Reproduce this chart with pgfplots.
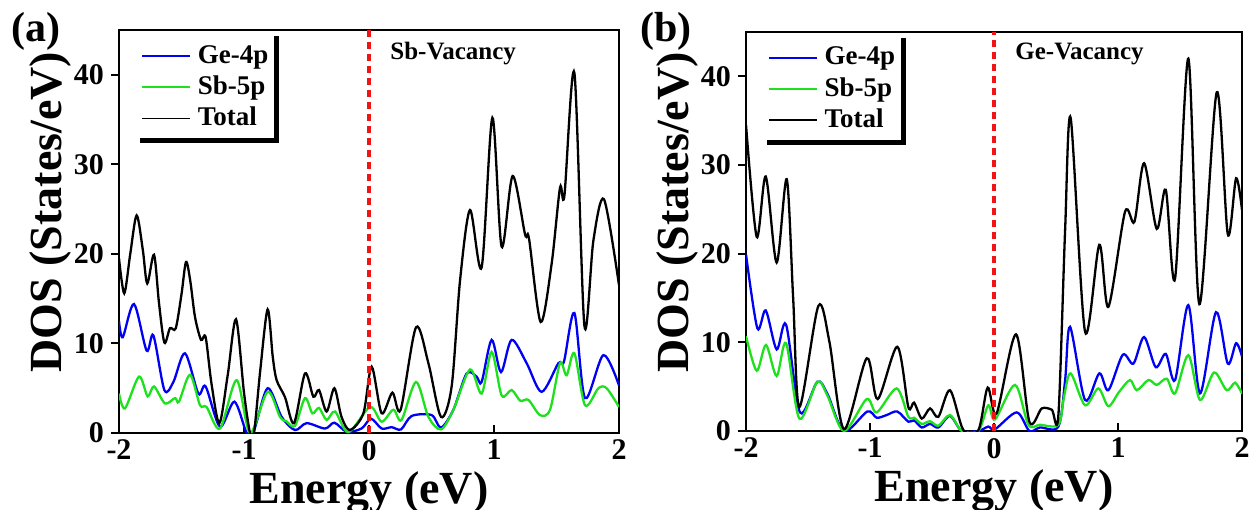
\documentclass[border=0pt]{standalone}
\usepackage{fontspec}
\setmainfont{Liberation Serif}
\usepackage{pgfplots}
\pgfplotsset{compat=1.18}

\definecolor{dosblue}{RGB}{0,0,245}
\definecolor{dosgreen}{RGB}{30,225,30}
\definecolor{fermired}{RGB}{240,20,20}

\pgfplotsset{
  dosaxis/.style={
    scale only axis,
    xmin=-2, xmax=2, ymin=0, ymax=45,
    xtick={-2,-1,0,1,2}, xticklabels={-2,-1,0,1,2},
    ytick={0,10,20,30,40}, yticklabels={0,10,20,30,40},
    tick pos=left, xtick align=inside, ytick align=outside,
    major tick length=4bp,
    tick style={line width=1bp, black},
    axis line style={line width=1.2bp},
    ticklabel style={font=\fontsize{15bp}{15bp}\selectfont\bfseries},
    label style={font=\fontsize{23bp}{23bp}\selectfont\bfseries},
    xlabel={Energy (eV)},
    ylabel={DOS (States/eV)},
    xlabel style={at={(axis description cs:0.5,-0.176)}, anchor=base},
    ylabel style={at={(axis description cs:-0.138,0.548)}, anchor=center},
    legend cell align=left,
    legend image code/.code={\draw[##1, line width=0.9bp] (0bp,0bp) -- (24bp,0bp);},
    legend style={at={(axis description cs:0.036,0.985)}, anchor=north west,
      draw=none, fill=white, inner xsep=2bp, inner ysep=2.5bp, row sep=1bp,
      font=\fontsize{13.5bp}{13.5bp}\selectfont\bfseries,
      nodes={inner sep=0.8bp, text height=10bp, text depth=3bp},
      /tikz/every odd column/.append style={column sep=2.5bp}},
    every axis plot/.append style={smooth, tension=0.5, line width=1.15bp, no markers},
  }
}

\begin{document}
\begin{tikzpicture}[x=0.5bp, y=-0.5bp]
\useasboundingbox (0,0) rectangle (1251,510);

% (a) Sb vacancy
\begin{axis}[dosaxis, at={(59.5bp,-216.5bp)}, anchor=south west, width=250bp, height=201.5bp,
  legend style={name=legA}]
\addplot[dosblue] coordinates {
(-2.0,12.5) (-1.97,10.7) (-1.88,14.4) (-1.779,9.2) (-1.725,10.9) (-1.637,4.8)
(-1.565,5.7) (-1.472,8.9) (-1.365,4.4) (-1.307,5.2) (-1.192,0.7) (-1.077,3.5)
(-0.978,0.0) (-0.92,0.3) (-0.811,5.0) (-0.699,1.8) (-0.592,0.33) (-0.499,1.1)
(-0.352,0.5) (-0.277,1.15) (-0.179,0.15) (-0.06,0.5) (0.016,1.6) (0.101,0.5)
(0.181,0.65) (0.256,0.4) (0.341,1.9) (0.501,2.0) (0.576,0.6) (0.675,2.6)
(0.781,6.65) (0.86,6.3) (0.901,5.7) (0.981,10.4) (1.056,6.8) (1.141,10.4)
(1.261,7.8) (1.381,4.6) (1.515,7.8) (1.56,8.0) (1.643,13.4) (1.728,3.9)
(1.875,8.7) (2.0,5.3)};
\addlegendentry{Ge-4p}
\addplot[dosgreen] coordinates {
(-2.0,4.4) (-1.952,2.75) (-1.84,6.3) (-1.771,4.1) (-1.72,5.2) (-1.632,3.3)
(-1.552,3.9) (-1.52,3.5) (-1.432,6.5) (-1.352,3.1) (-1.299,2.9) (-1.192,0.5)
(-1.059,5.9) (-0.952,0.0) (-0.811,4.6) (-0.712,1.8) (-0.66,1.3) (-0.592,0.8)
(-0.512,3.9) (-0.453,2.2) (-0.4,2.8) (-0.339,1.45) (-0.272,2.4) (-0.165,0.1)
(0.008,2.9) (0.101,1.26) (0.195,2.6) (0.26,1.45) (0.376,5.7) (0.475,1.8)
(0.576,0.4) (0.675,2.6) (0.808,7.1) (0.901,4.4) (0.981,9.05) (1.061,4.2)
(1.141,4.8) (1.21,3.6) (1.275,3.7) (1.368,2.0) (1.448,2.6) (1.528,7.8)
(1.581,6.45) (1.643,8.9) (1.728,3.1) (1.835,5.0) (1.901,5.0) (2.0,2.9)};
\addlegendentry{Sb-5p}
\addplot[black] coordinates {
(-2.00,19.5) (-1.958,15.6) (-1.91,20) (-1.859,24.3) (-1.81,20.5) (-1.774,16.7)
(-1.72,19.9) (-1.68,14.5) (-1.637,10.1) (-1.592,11.7) (-1.546,11.7) (-1.50,15.5)
(-1.464,19.1) (-1.43,17) (-1.392,12.95) (-1.344,10.4) (-1.307,10.7) (-1.26,5.5)
(-1.197,1.1) (-1.13,6.5) (-1.064,12.7) (-1.00,4.5) (-0.952,0.0) (-0.92,0.0)
(-0.87,7) (-0.811,13.8) (-0.77,8.5) (-0.739,5.9) (-0.672,4.0) (-0.6,1.1)
(-0.512,6.65) (-0.445,4.05) (-0.4,4.8) (-0.339,2.4) (-0.277,5.0) (-0.22,1.8)
(-0.152,0.33) (-0.045,2.2) (0.021,7.4) (0.101,2.2) (0.187,4.5) (0.253,2.6)
(0.376,11.8) (0.475,7.8) (0.576,1.8) (0.661,5.2) (0.728,17.0) (0.808,24.9)
(0.901,18.5) (0.987,35.2) (1.061,20.8) (1.149,28.7) (1.248,22.2) (1.28,21.7)
(1.373,12.4) (1.461,18.9) (1.528,27.4) (1.563,26.5) (1.643,40.2) (1.723,12.0)
(1.795,21.5) (1.88,26.1) (2.0,16.5)};
\addlegendentry{Total}
\draw[fermired, line width=2bp, dash pattern=on 3.5bp off 2.5bp] (axis cs:0,0) -- (axis cs:0,45);
\end{axis}

% (b) Ge vacancy
\begin{axis}[dosaxis, at={(373bp,-215.5bp)}, anchor=south west, width=248bp, height=199.5bp,
  legend style={name=legB}]
\addplot[dosblue] coordinates {
(-2.0,19.9) (-1.909,11.6) (-1.841,13.6) (-1.753,9.2) (-1.677,12.0) (-1.565,2.1)
(-1.425,5.55) (-1.344,4.2) (-1.21,0.0) (-1.022,2.2) (-0.946,1.5) (-0.866,1.8)
(-0.78,2.2) (-0.691,1.05) (-0.645,1.2) (-0.583,0.4) (-0.516,0.8) (-0.449,0.4)
(-0.355,1.7) (-0.26,0.0) (-0.126,0.0) (-0.046,0.5) (0.008,0.2) (0.183,2.1)
(0.285,0.0) (0.37,0.4) (0.519,0.5) (0.573,5.7) (0.613,11.75) (0.734,3.5)
(0.849,6.5) (0.922,4.6) (1.038,8.6) (1.124,7.6) (1.21,10.6) (1.304,7.2)
(1.385,8.7) (1.46,5.75) (1.567,14.2) (1.661,4.25) (1.79,13.4) (1.885,7.6)
(1.952,9.9) (2.0,8.4)};
\addlegendentry{Ge-4p}
\addplot[dosgreen] coordinates {
(-2.0,10.7) (-1.914,6.8) (-1.839,9.7) (-1.753,6.2) (-1.677,9.9) (-1.57,1.4)
(-1.425,5.55) (-1.344,4.0) (-1.21,0.0) (-1.027,3.6) (-0.946,2.1) (-0.785,4.8)
(-0.691,1.6) (-0.645,1.5) (-0.583,0.8) (-0.516,1.1) (-0.449,0.6) (-0.355,1.8)
(-0.26,0.0) (-0.126,0.0) (-0.046,2.9) (0.008,1.3) (0.169,5.2) (0.277,0.7)
(0.37,0.7) (0.519,0.7) (0.565,3.9) (0.618,6.5) (0.734,2.9) (0.841,4.8)
(0.922,2.8) (1.008,4.4) (1.097,5.75) (1.151,4.6) (1.245,5.75) (1.312,5.2)
(1.393,5.9) (1.46,4.25) (1.567,8.55) (1.661,3.5) (1.774,6.6) (1.876,4.6)
(1.944,5.45) (2.0,4.2)};
\addlegendentry{Sb-5p}
\addplot[black] coordinates {
(-2.0,34.5) (-1.914,21.9) (-1.841,28.7) (-1.753,19.0) (-1.672,28.4) (-1.62,15)
(-1.57,2.7) (-1.417,14.1) (-1.328,10.1) (-1.21,0.2) (-1.027,8.2) (-0.938,3.6)
(-0.78,9.5) (-0.691,2.7) (-0.645,3.2) (-0.583,1.4) (-0.516,2.55) (-0.449,1.6)
(-0.355,4.6) (-0.247,0.1) (-0.126,0.1) (-0.051,4.9) (0.021,2.0) (0.177,10.9)
(0.285,1.05) (0.385,2.55) (0.466,2.4) (0.519,1.8) (0.573,22.6) (0.618,35.3)
(0.734,11.2) (0.849,21.0) (0.922,14.0) (1.056,24.7) (1.132,23.6) (1.21,30.2)
(1.312,22.8) (1.385,27.2) (1.46,17.2) (1.567,42.0) (1.656,14.3) (1.796,38.2)
(1.885,22.2) (1.952,28.5) (2.0,24.9)};
\addlegendentry{Total}
\draw[fermired, line width=2bp, dash pattern=on 3.5bp off 2.5bp] (axis cs:0,0) -- (axis cs:0,45);
\end{axis}

% shadow frame of the legends (right and bottom edges)
\foreach \L in {legA,legB}{
  \draw[line width=2.5bp, miter limit=4]
    ([xshift=1.25bp]\L.north east) -- ([xshift=1.25bp,yshift=-1.25bp]\L.south east)
    -- ([xshift=1.5bp,yshift=-1.25bp]\L.south west);
}

\node[anchor=base west, inner sep=0pt, font=\fontsize{12.5bp}{12.5bp}\selectfont\bfseries] at (390,60) {Sb-Vacancy};
\node[anchor=base west, inner sep=0pt, font=\fontsize{12.5bp}{12.5bp}\selectfont\bfseries] at (1015,60) {Ge-Vacancy};
\node[font=\fontsize{21bp}{21bp}\selectfont\bfseries] at (36,31) {(a)};
\node[font=\fontsize{21bp}{21bp}\selectfont\bfseries] at (666,31) {(b)};
\end{tikzpicture}
\end{document}
